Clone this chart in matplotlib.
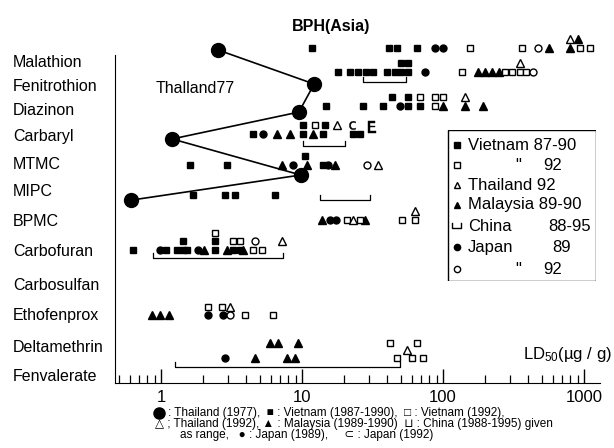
import matplotlib.pyplot as plt
from matplotlib import transforms
from matplotlib.patches import Rectangle
from matplotlib.lines import Line2D

plt.rcParams['font.family'] = ['Liberation Sans', 'DejaVu Sans']
plt.rcParams['mathtext.default'] = 'regular'

# insecticides, top to bottom
insecticides = ['Malathion', 'Fenitrothion', 'Diazinon', 'Carbaryl', 'MTMC', 'MIPC',
                'BPMC', 'Carbofuran', 'Carbosulfan', 'Ethofenprox', 'Deltamethrin',
                'Fenvalerate']
label_rows = [0, 0.87, 1.71, 2.59, 3.57, 4.51, 5.56, 6.64, 7.80, 8.85, 9.97, 11.01]
data_rows = dict(zip(insecticides,
                     [-0.49, 0.35, 1.54, 2.5, 3.6, 4.65, 5.52, 6.57, 7.8, 8.85, 9.83, 10.35]))
STEP = 0.3  # stacking step for overlapping symbols

# Thailand 1977, joined by a line
thai77_names = ['Malathion', 'Fenitrothion', 'Diazinon', 'Carbaryl', 'MTMC', 'MIPC']
thai77_ld50 = [2.54, 12.2, 9.5, 1.2, 9.8, 0.61]
thai77_shift = [0.07, 0.42, 0.21, 0.19, 0.35, 0.18]

# (insecticide, LD50 ug/g, stack level)
vietnam_8790 = [
    ('Malathion', 11.8, 0), ('Malathion', 41.4, 0), ('Malathion', 47.2, 0), ('Malathion', 65.4, 0),
    ('Fenitrothion', 18.0, 0), ('Fenitrothion', 21.9, 0), ('Fenitrothion', 24.9, 0),
    ('Fenitrothion', 28.4, 0), ('Fenitrothion', 31.9, 0), ('Fenitrothion', 40.0, 0),
    ('Fenitrothion', 45.6, 0), ('Fenitrothion', 50.0, 0), ('Fenitrothion', 50.0, -1),
    ('Fenitrothion', 56.0, 0), ('Fenitrothion', 56.0, -1),
    ('Diazinon', 14.8, 0), ('Diazinon', 27.1, 0), ('Diazinon', 37.5, 0), ('Diazinon', 43.5, -1),
    ('Diazinon', 56.4, 0), ('Diazinon', 56.4, -1), ('Diazinon', 68.7, 0),
    ('Carbaryl', 4.49, 0), ('Carbaryl', 10.2, -1), ('Carbaryl', 14.6, -1), ('Carbaryl', 14.1, 0),
    ('Carbaryl', 23.0, 0), ('Carbaryl', 25.8, 0), ('Carbaryl', 10.2, 0),
    ('MTMC', 1.61, 0), ('MTMC', 2.94, 0), ('MTMC', 10.5, -1), ('MTMC', 14.1, 0),
    ('MIPC', 1.69, 0), ('MIPC', 2.84, 0), ('MIPC', 3.35, 0), ('MIPC', 6.44, 0),
    ('Carbofuran', 0.633, 0), ('Carbofuran', 1.08, 0), ('Carbofuran', 1.30, 0),
    ('Carbofuran', 1.43, 0), ('Carbofuran', 1.43, -1), ('Carbofuran', 1.53, 0),
    ('Carbofuran', 2.41, 0), ('Carbofuran', 2.41, -1), ('Carbofuran', 3.24, 0),
    ('Carbofuran', 3.63, 0),
]
vietnam_92 = [
    ('Malathion', 155, 0), ('Malathion', 363, 0), ('Malathion', 937, 0), ('Malathion', 1104, 0),
    ('Fenitrothion', 136, 0), ('Fenitrothion', 275, 0), ('Fenitrothion', 309, 0),
    ('Fenitrothion', 352, 0), ('Fenitrothion', 388, 0),
    ('Diazinon', 68.7, -1), ('Diazinon', 87.8, -1), ('Diazinon', 100, -1), ('Diazinon', 87.8, 0),
    ('Carbaryl', 12.4, -1),
    ('BPMC', 20.9, 0), ('BPMC', 25.8, 0), ('BPMC', 51.2, 0), ('BPMC', 63.3, 0),
    ('Carbofuran', 2.41, -2), ('Carbofuran', 3.24, -1), ('Carbofuran', 3.63, -1),
    ('Carbofuran', 4.49, 0), ('Carbofuran', 5.2, 0),
    ('Ethofenprox', 2.15, -1), ('Ethofenprox', 2.71, -1), ('Ethofenprox', 3.94, 0),
    ('Ethofenprox', 6.22, 0),
    ('Deltamethrin', 42.1, 0), ('Deltamethrin', 65.4, 0),
    ('Fenvalerate', 47.2, 0), ('Fenvalerate', 60.3, 0), ('Fenvalerate', 72.1, 0),
]
thailand_92 = [
    ('Malathion', 796, -1), ('Fenitrothion', 352, -1), ('Diazinon', 143, -1),
    ('Carbaryl', 17.7, -1), ('MTMC', 34.6, 0), ('BPMC', 23.0, 0), ('BPMC', 63.3, -1),
    ('Carbofuran', 7.21, -1), ('Ethofenprox', 3.08, -1), ('Fenvalerate', 55.6, -1),
]
malaysia_8990 = [
    ('Malathion', 565, 0), ('Malathion', 800, 0), ('Malathion', 906, -1),
    ('Fenitrothion', 177, 0), ('Fenitrothion', 199, 0), ('Fenitrothion', 223, 0),
    ('Fenitrothion', 250, 0),
    ('Diazinon', 100, 0), ('Diazinon', 143, 0), ('Diazinon', 192, 0),
    ('Carbaryl', 6.65, 0), ('Carbaryl', 8.22, 0), ('Carbaryl', 12.0, 0),
    ('MTMC', 7.21, 0), ('MTMC', 10.9, 0), ('MTMC', 17.1, 0),
    ('BPMC', 13.9, 0), ('BPMC', 28.0, 0),
    ('Carbofuran', 2.02, 0), ('Carbofuran', 2.94, 0), ('Carbofuran', 3.82, 0),
    ('Ethofenprox', 0.86, 0), ('Ethofenprox', 0.98, 0), ('Ethofenprox', 1.14, 0),
    ('Deltamethrin', 5.93, 0), ('Deltamethrin', 6.76, 0), ('Deltamethrin', 9.37, 0),
    ('Fenvalerate', 4.64, 0), ('Fenvalerate', 7.83, 0), ('Fenvalerate', 8.92, 0),
]
japan_89 = [
    ('Malathion', 87.8, 0), ('Malathion', 100, 0), ('Fenitrothion', 74.5, 0),
    ('Diazinon', 49.8, 0), ('Carbaryl', 5.29, 0), ('MTMC', 8.63, 0), ('MTMC', 15.3, 0),
    ('BPMC', 15.8, 0), ('BPMC', 17.4, 0), ('Carbofuran', 0.98, 0), ('Carbofuran', 1.83, 0),
    ('Ethofenprox', 2.15, 0), ('Ethofenprox', 2.75, 0), ('Fenvalerate', 2.84, 0),
]
japan_92 = [
    ('Malathion', 472, 0), ('Fenitrothion', 435, 0), ('MTMC', 28.9, 0),
    ('Carbofuran', 4.64, -1), ('Ethofenprox', 3.08, 0),
]
japan_92_c = [('Carbaryl', 22.6, -1)]
japan_92_e = [('Carbaryl', 31.4, -0.8)]

# China 1988-1995 given as range: (insecticide, low, high, offset)
china_ranges = [
    ('Fenitrothion', 27, 55, 0.35),
    ('Carbaryl', 10.2, 20.2, 0.44),
    ('BPMC', 13.4, 30.3, -0.69),
    ('Carbofuran', 0.88, 7.3, 0.28),
    ('Fenvalerate', 1.26, 49.5, 0.31),
]

series = [
    (vietnam_8790, dict(marker='s', ms=5, mfc='k', mec='k')),
    (malaysia_8990, dict(marker='^', ms=5.5, mfc='k', mec='k')),
    (japan_89, dict(marker='o', ms=5, mfc='k', mec='k')),
    (vietnam_92, dict(marker='s', ms=5, mfc='white', mec='k', mew=1)),
    (thailand_92, dict(marker='^', ms=5.5, mfc='white', mec='k', mew=1)),
    (japan_92, dict(marker='o', ms=5, mfc='white', mec='k', mew=1)),
    (japan_92_c, dict(marker=r'$\mathrm{c}$', ms=6, mfc='k', mec='k', mew=0.3)),
    (japan_92_e, dict(marker=r'$\mathrm{E}$', ms=8, mfc='k', mec='k', mew=0.3)),
]

fig = plt.figure(figsize=(6.14, 4.48), dpi=100)
ax = fig.add_axes([115 / 614, 65 / 448, 485 / 614, 348 / 448])

# Thailand 1977
ty = [data_rows[n] + s for n, s in zip(thai77_names, thai77_shift)]
ax.plot(thai77_ld50, ty, color='k', lw=1.2, marker='o', ms=10, zorder=4)
ax.text(1.74, 0.91, 'Thalland77', fontsize=11.5, ha='center', va='center')

for pts, st in series:
    xs = [v for _, v, _ in pts]
    ys = [data_rows[n] + lv * STEP for n, _, lv in pts]
    ax.plot(xs, ys, ls='none', zorder=3, **st)

for name, lo, hi, off in china_ranges:
    y = data_rows[name] + off
    ax.plot([lo, lo, hi, hi], [y - 0.17, y, y, y - 0.17], color='k', lw=0.9)

ax.set_xscale('log')
ax.set_xlim(0.472, 1298)
ax.set_ylim(11.22, -0.944)
ax.set_yticks([])
ax.set_xticks([1, 10, 100, 1000])
ax.set_xticklabels(['1', '10', '100', '1000'])
ax.tick_params(axis='x', which='major', direction='in', length=10, width=1, labelsize=12, pad=5)
ax.tick_params(axis='x', which='minor', direction='in', length=6, width=0.9)
ax.spines['top'].set_visible(False)
ax.spines['right'].set_visible(False)
ax.spines['left'].set_bounds(11.22, -0.25)
ax.patch.set_alpha(0)

trans = transforms.blended_transform_factory(fig.transFigure, ax.transData)
for name, r in zip(insecticides, label_rows):
    ax.text(13 / 614, r, name, transform=trans, ha='left', va='center', fontsize=11.5)

fig.text(331 / 614, 1 - 26 / 448, 'BPH(Asia)', ha='center', va='center',
         fontsize=11.5, fontweight='bold')
fig.text(612 / 614, 1 - 354 / 448, r'LD$_{50}$(µg / g)', ha='right', va='center', fontsize=12)

# legend box
lax = fig.add_axes([447 / 614, 167 / 448, 149 / 614, 151 / 448])
lax.set_xlim(0, 149)
lax.set_ylim(151, 0)
lax.axis('off')
lax.add_patch(Rectangle((0.5, 0.5), 148, 150, fill=False, lw=1, ec='k'))
ly = [15, 35, 55, 75, 96, 117, 139]
lax.plot(10, ly[0], marker='s', ms=4.5, color='k')
lax.plot(10, ly[1], marker='s', ms=4.5, mfc='white', mec='k')
lax.plot(10, ly[2], marker='^', ms=5, mfc='white', mec='k')
lax.plot(10, ly[3], marker='^', ms=5, color='k')
lax.plot([5, 5, 14, 14], [ly[4] - 3, ly[4] + 2, ly[4] + 2, ly[4] - 3], color='k', lw=1)
lax.plot(10, ly[5], marker='o', ms=4.5, color='k')
lax.plot(10, ly[6], marker='o', ms=4.5, mfc='white', mec='k')
fs = 12
lax.text(21, ly[0], 'Vietnam 87-90', va='center', fontsize=fs)
lax.text(71, ly[1], '"', va='center', ha='center', fontsize=fs)
lax.text(96, ly[1], '92', va='center', fontsize=fs)
lax.text(21, ly[2], 'Thailand 92', va='center', fontsize=fs)
lax.text(21, ly[3], 'Malaysia 89-90', va='center', fontsize=fs)
lax.text(21, ly[4], 'China', va='center', fontsize=fs)
lax.text(101, ly[4], '88-95', va='center', fontsize=fs)
lax.text(21, ly[5], 'Japan', va='center', fontsize=fs)
lax.text(105, ly[5], '89', va='center', fontsize=fs)
lax.text(71, ly[6], '"', va='center', ha='center', fontsize=fs)
lax.text(96, ly[6], '92', va='center', fontsize=fs)

# caption
cfs = 8.5
fig.add_artist(Line2D([159 / 614], [1 - 413 / 448], marker='o', ms=8, color='k',
                      transform=fig.transFigure))
fig.text(168 / 614, 1 - 413 / 448,
         ': Thailand (1977),  ■ : Vietnam (1987-1990),  □ : Vietnam (1992),',
         fontsize=cfs, va='center')
fig.text(155 / 614, 1 - 424 / 448,
         '△ ; Thailand (1992), ▲ : Malaysia (1989-1990)  ⊔ : China (1988-1995) given',
         fontsize=cfs, va='center')
fig.text(180 / 614, 1 - 435 / 448,
         'as range,   ● : Japan (1989),     ⊂ : Japan (1992)',
         fontsize=cfs, va='center')

fig.savefig('out.png', dpi=100)
